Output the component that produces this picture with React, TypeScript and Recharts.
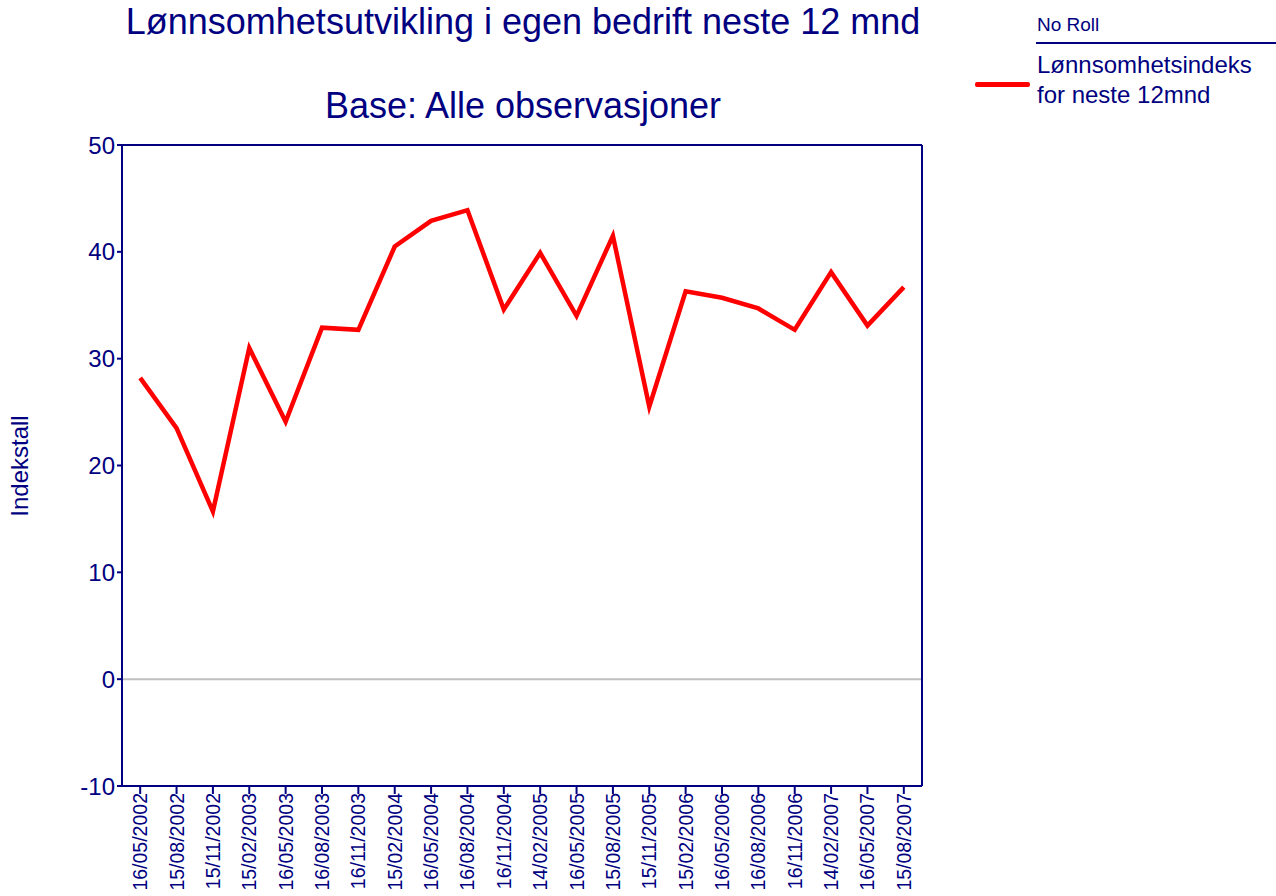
import { LineChart, Line, XAxis, YAxis, ReferenceLine } from "recharts";

const NAVY = "#000080";

const datoer = [
  "16/05/2002", "15/08/2002", "15/11/2002", "15/02/2003", "16/05/2003", "16/08/2003",
  "16/11/2003", "15/02/2004", "16/05/2004", "16/08/2004", "16/11/2004", "14/02/2005",
  "16/05/2005", "15/08/2005", "15/11/2005", "15/02/2006", "16/05/2006", "16/08/2006",
  "16/11/2006", "14/02/2007", "16/05/2007", "15/08/2007",
];

const indeks = [
  28.2, 23.5, 15.7, 31.0, 24.1, 32.9, 32.7, 40.5, 42.9, 43.9, 34.6,
  39.9, 34.0, 41.5, 25.5, 36.3, 35.7, 34.7, 32.7, 38.1, 33.1, 36.7,
];

const yTicks = [-10, 0, 10, 20, 30, 40, 50];

const data = datoer.map((d, i) => ({ dato: d, indeks: indeks[i] }));

const font = "'Liberation Sans', Arial, sans-serif";

function DatoTick(props: any) {
  const { x, y, payload } = props;
  const ty = y - 3;
  return (
    <text
      x={x}
      y={ty}
      transform={`rotate(-90, ${x}, ${ty})`}
      textAnchor="end"
      dominantBaseline="central"
      fill={NAVY}
      fontSize={19.5}
      fontFamily={font}
    >
      {payload.value}
    </text>
  );
}

function LegendBox() {
  return (
    <div style={{ position: "absolute", left: 974, top: 0, width: 302, height: 110, fontFamily: font, color: NAVY }}>
      <div style={{ position: "absolute", left: 63, top: 14, fontSize: 19 }}>No Roll</div>
      <div style={{ position: "absolute", left: 62, top: 42, width: 240, height: 2, background: NAVY }} />
      <div style={{ position: "absolute", left: 1, top: 82, width: 55, height: 5, background: "#ff0000", borderRadius: 2 }} />
      <div style={{ position: "absolute", left: 63, top: 50, fontSize: 24, lineHeight: "30px" }}>
        Lønnsomhetsindeks
        <br />
        for neste 12mnd
      </div>
    </div>
  );
}

export default function App() {
  return (
    <div style={{ position: "absolute", left: 0, top: 0, width: 1276, height: 896, background: "#fff", overflow: "hidden" }}>
      <LineChart
        width={1276}
        height={896}
        data={data}
        margin={{ top: 144, right: 353, bottom: 0, left: 80 }}
        style={{ position: "absolute", left: 0, top: 0 }}
      >
        <XAxis
          dataKey="dato"
          scale="band"
          interval={0}
          height={110}
          stroke={NAVY}
          strokeWidth={2}
          tickSize={8}
          tick={<DatoTick />}
        />
        <XAxis xAxisId="top" orientation="top" dataKey="dato" height={1} tick={false} tickLine={false} stroke={NAVY} strokeWidth={2} />
        <YAxis
          domain={[-10, 50]}
          ticks={yTicks}
          width={42}
          stroke={NAVY}
          strokeWidth={2}
          tickSize={5}
          tick={{ fill: NAVY, fontSize: 24, fontFamily: font }}
        />
        <YAxis yAxisId="right" orientation="right" domain={[-10, 50]} width={1} tick={false} tickLine={false} stroke={NAVY} strokeWidth={2} />
        <ReferenceLine y={0} stroke="#c0c0c0" strokeWidth={2} />
        <Line
          dataKey="indeks"
          stroke="#ff0000"
          strokeWidth={4.5}
          dot={false}
          activeDot={false}
          isAnimationActive={false}
        />
      </LineChart>
      <div style={{ position: "absolute", left: 0, width: 1046, top: 1, textAlign: "center", fontFamily: font, fontSize: 36, color: NAVY }}>
        Lønnsomhetsutvikling i egen bedrift neste 12 mnd
      </div>
      <div style={{ position: "absolute", left: 0, width: 1046, top: 85, textAlign: "center", fontFamily: font, fontSize: 36, color: NAVY }}>
        Base: Alle observasjoner
      </div>
      <div
        style={{
          position: "absolute", left: 20, top: 466, transform: "translate(-50%, -50%) rotate(-90deg)",
          fontFamily: font, fontSize: 24, color: NAVY, whiteSpace: "nowrap",
        }}
      >
        Indekstall
      </div>
      <LegendBox />
    </div>
  );
}
